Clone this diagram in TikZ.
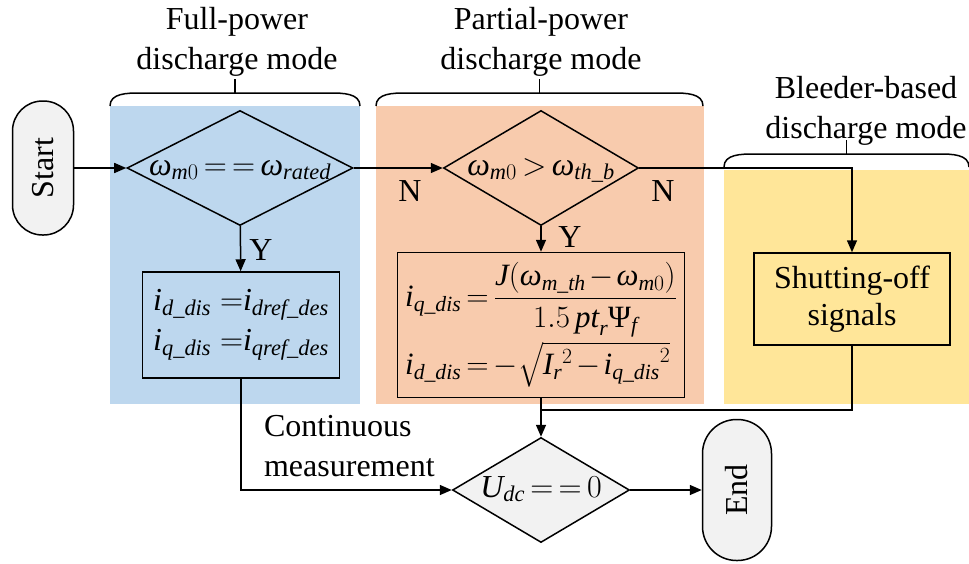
\documentclass[tikz,border=0pt]{standalone}
\usepackage{fix-cm}
\usepackage{amsmath}
\usepackage{fontspec}
\setmainfont{Liberation Serif}
\usetikzlibrary{positioning,arrows.meta,shapes.geometric,calc}

\definecolor{fullblue}{RGB}{189,215,238}
\definecolor{partorange}{RGB}{248,203,173}
\definecolor{bleedyellow}{RGB}{255,230,153}
\definecolor{termgray}{RGB}{242,242,242}

% italic letters in formulas taken from the text font
\newcommand{\vi}[1]{\textit{#1}}
% tighter spacing round = and > inside the boxes
\newcommand{\tightmath}{\thickmuskip=3mu plus 2mu\medmuskip=2mu plus 1mu}

\begin{document}
\begin{tikzpicture}[x=1pt, y=-1pt,
      font=\fontsize{32}{40}\selectfont,
      line width=1.5pt,
      term/.style={draw, fill=termgray, rounded corners=30pt, rotate=90, inner sep=0pt},
      decision/.style={draw, diamond, inner sep=0pt, text height=16pt, text depth=2pt,
        execute at begin node=\tightmath},
      proc/.style={draw, inner sep=0pt},
      >={Triangle[length=12pt,width=10pt]}
    ]
    \useasboundingbox (0,0) rectangle (969,563);

    % mode panels
    \fill[fullblue] (110,106) rectangle (360,404);
    \fill[partorange] (376,106) rectangle (704,404);
    \fill[bleedyellow] (724,170) rectangle (969,404);

    % braces over the panels
    \foreach \l/\r/\y in {110/360/93, 376/703/93, 724/969/154} {
      \draw (\l,\y+13) to[out=90,in=180] (\l+30,\y) -- (\r-30,\y) to[out=0,in=90] (\r,\y+13);
      \draw ({(\l+\r)/2},\y) -- ++(0,-14);
    }

    \node[align=center] (fulllbl) at (237,42) {Full-power\\discharge mode};
    \node[align=center] (partlbl) at (541,42) {Partial-power\\discharge mode};
    \node[align=center] (bleedlbl) at (866,111) {Bleeder-based\\discharge mode};

    \node[term, minimum width=134pt, minimum height=61pt] (start) at (43,168) {Start};
    \node[decision, aspect=1.965, minimum width=226pt, minimum height=115pt] (fullchk) at (240,168)
      {$\vi{ω}_{\vi{m}0}\mathrel{=\,=}\vi{ω}_{\vi{rated}}$};
    \node[decision, aspect=1.7, minimum width=195pt, minimum height=115pt] (partchk) at (541,168)
      {$\vi{ω}_{\vi{m}0} > \vi{ω}_{\vi{th\_b}}$};

    \node[proc, align=center, minimum width=197pt, minimum height=106pt] (fullset) at (241,325)
      {$\vi{i}_{\vi{d\_dis}}\;{=}\vi{i}_{\vi{dref\_des}}$\\$\vi{i}_{\vi{q\_dis}}\;{=}\vi{i}_{\vi{qref\_des}}$};
    \node[proc, align=left, minimum width=287pt, minimum height=145pt,
      font=\fontsize{31}{38}\selectfont, execute at begin node=\tightmath] (partset) at (541,325)
      {$\vi{i}_{\vi{q\_dis}} = \dfrac{\vi{J}(\vi{ω}_{\vi{m\_th}}-\vi{ω}_{\vi{m}0})}{1.5\,\vi{pt}_{\vi{r}}\text{Ψ}_{\vi{f}}}$\\[4pt]
       $\vi{i}_{\vi{d\_dis}} = -\sqrt{{\vi{I}_{\vi{r}}}^{2}-{\vi{i}_{\vi{q\_dis}}}^{2}}$};
    \node[proc, align=center, minimum width=196pt, minimum height=92pt,
      font=\fontsize{32}{37}\selectfont] (shutoff) at (852,299) {Shutting-off\\signals};

    \node[decision, aspect=1.686, fill=termgray, minimum width=177pt, minimum height=105pt] (dcchk) at (541,490)
      {$\vi{U}_{\vi{dc}}\mathrel{=\,=}0$};
    \node[term, rounded corners=34pt, minimum width=141pt, minimum height=69pt] (stop) at (737,490) {End};
    \coordinate (join) at (541,410);

    \draw[->] (start) -- (fullchk);
    \draw[->] (fullchk) -- (partchk);
    \draw[->] (partchk) -| (shutoff);
    \draw[->] (fullchk) -- (fullset);
    \draw[->] (partchk) -- (partset);
    \draw[->] (fullset) |- (dcchk);
    \draw[->] (partset) -- (dcchk);
    \draw (shutoff) |- (join);
    \draw[->] (dcchk) -- (stop);

    \node (yfull) at (261,250) {Y};
    \node (ypart) at (570,237) {Y};
    \node (nfull) at (410,191) {N};
    \node (npart) at (663,191) {N};
    \node[align=left, anchor=west] (measlbl) at (260,446) {Continuous\\measurement};
  \end{tikzpicture}
\end{document}
